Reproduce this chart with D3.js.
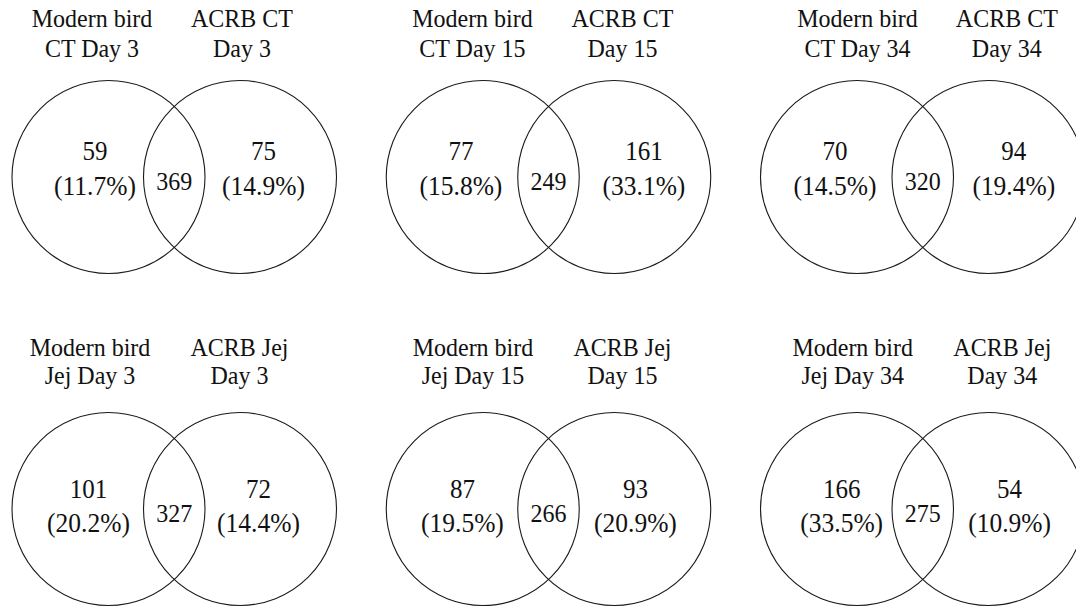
<!DOCTYPE html>
<html>
<head>
<meta charset="utf-8">
<script src="https://cdn.jsdelivr.net/npm/d3@7/dist/d3.min.js"></script>
<style>
  html, body { margin: 0; padding: 0; background: #fff; }
  svg { display: block; }
</style>
</head>
<body>
<svg id="chart" width="1076" height="610"></svg>
<script>
// Two-set Venn diagrams: modern bird vs ACRB, caecal tonsil (CT) and jejunum (Jej), three ages
const tissues = ["CT", "Jej"];
const days = [3, 15, 34];

const leftOnly  = [59, 77, 70, 101, 87, 166];
const shared    = [369, 249, 320, 327, 266, 275];
const rightOnly = [75, 161, 94, 72, 93, 54];
const leftPct   = [11.7, 15.8, 14.5, 20.2, 19.5, 33.5];
const rightPct  = [14.9, 33.1, 19.4, 14.4, 20.9, 10.9];

// Horizontal nudges (px) of the set labels and unique counts, per panel
const leftLabelDx  = [-16.5, -10.3, 0.5, -18.5, -9.8, -4.3];
const rightLabelDx = [2, 8.2, 18.3, -0.5, 8.2, 13.8];
const leftCountDx  = [-13.5, -21.8, -22, -20, -20.3, -15.3];
const rightCountDx = [23.5, 29.7, 25.3, 18.5, 21.2, 21.1];

const FONT = "'Liberation Serif', 'Times New Roman', Times, 'DejaVu Serif', serif";

const panels = [];
tissues.forEach((t, r) => days.forEach((d, c) => {
  const i = r * days.length + c;
  panels.push({
    row: r, col: c, tissue: t, day: d,
    leftLabel: ["Modern bird", `${t} Day ${d}`],
    rightLabel: [`ACRB ${t}`, `Day ${d}`],
    leftOnly: leftOnly[i], shared: shared[i], rightOnly: rightOnly[i],
    leftPct: leftPct[i], rightPct: rightPct[i],
    ldx: leftLabelDx[i], rdx: rightLabelDx[i],
    lcdx: leftCountDx[i], rcdx: rightCountDx[i]
  });
}));

const svg = d3.select("#chart");

const colX = d3.scalePoint().domain(d3.range(days.length)).range([108.5, 857]);
const rowY = d3.scalePoint().domain(d3.range(tissues.length)).range([177, 509]);
const radius = 96.5;
const gap = 131.5;   // distance between the two circle centres

// label baselines (absolute) and text offsets relative to the circle centre, per row
const textY = [
  { lab1: 27, lab2: 56.5, count: -17, pct: 18, inter: 13 },
  { lab1: 355.5, lab2: 383.5, count: -11, pct: 23, inter: 13 }
];

const fmtPct = d3.format(".1f");

// text drawn slightly taller than wide, anchored on its baseline
function addText(sel, x, y, size, str) {
  sel.append("text")
    .attr("transform", `translate(${x},${y}) scale(1,1.06)`)
    .attr("text-anchor", "middle")
    .attr("font-family", FONT)
    .attr("font-size", size)
    .attr("fill", "#111")
    .text(str);
}

const g = svg.selectAll("g.venn")
  .data(panels)
  .join("g")
  .attr("class", "venn")
  .attr("transform", d => `translate(${colX(d.col)},${rowY(d.row)})`);

// circles
g.selectAll("circle")
  .data(d => [0, gap])
  .join("circle")
  .attr("cx", d => d)
  .attr("cy", 0)
  .attr("r", radius)
  .attr("fill", "none")
  .attr("stroke", "#1a1a1a")
  .attr("stroke-width", 1.1);

g.each(function (d) {
  const sel = d3.select(this);
  const ty = textY[d.row];
  const top = ty.lab1 - rowY(d.row);
  const second = ty.lab2 - rowY(d.row);

  // set labels above each circle
  [[d.leftLabel, d.ldx], [d.rightLabel, gap + d.rdx]].forEach(([lines, x]) => {
    addText(sel, x, top, 24, lines[0]);
    addText(sel, x, second, 24, lines[1]);
  });

  // unique counts and percentages
  [[d.leftOnly, d.leftPct, d.lcdx], [d.rightOnly, d.rightPct, gap + d.rcdx]].forEach(([n, p, x]) => {
    addText(sel, x, ty.count, 25, n);
    addText(sel, x, ty.pct, 25.5, `(${fmtPct(p)}%)`);
  });

  // shared count in the lens
  addText(sel, gap / 2, ty.inter, 24, d.shared);
});
</script>
</body>
</html>
